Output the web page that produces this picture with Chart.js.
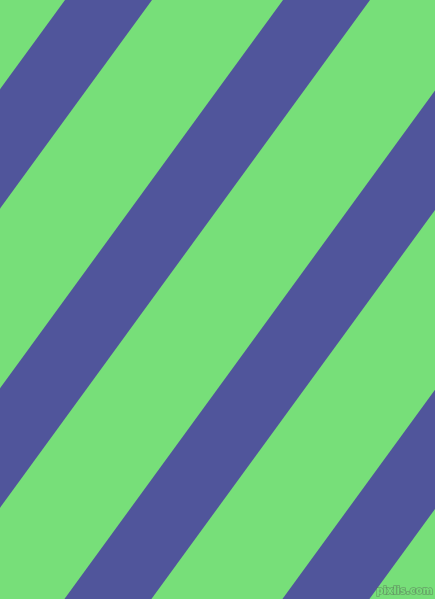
<!DOCTYPE html>
<html>
<head>
<meta charset="utf-8">
<script src="https://cdn.jsdelivr.net/npm/chart.js@4/dist/chart.umd.min.js"></script>
<style>
  html, body { margin: 0; padding: 0; background: #77df79; }
  canvas { display: block; }
</style>
</head>
<body>
<canvas id="stripes" width="435" height="599"></canvas>
<script>
// ── Band data: where each blue band's upper edge meets the top row ──
const bandStarts = [65, 283, 501, 719];   // x at y = 0
const bandWidth  = 87;                    // horizontal width of a band
const bandSlope  = 1.372;                 // dy per dx (edges run down-left)
const edgeXs     = [-60, 500];            // x positions sampled on each edge

const GREEN = "#77df79";
const BLUE  = "#50559b";

// each band = upper edge + lower edge, filled between the two
function edge(c) {
  return edgeXs.map(x => ({ x, y: bandSlope * (c - x) }));
}

const datasets = [];
bandStarts.forEach(c => {
  datasets.push({
    data: edge(c),
    borderWidth: 0,
    pointRadius: 0,
    fill: false,
  });
  datasets.push({
    data: edge(c + bandWidth),
    borderWidth: 0,
    pointRadius: 0,
    backgroundColor: BLUE,
    fill: "-1",
  });
});

// ── Plugins: flat background and the corner mark ──
const background = {
  id: "background",
  beforeDraw(chart) {
    const { ctx, width, height } = chart;
    ctx.save();
    ctx.fillStyle = GREEN;
    ctx.fillRect(0, 0, width, height);
    ctx.restore();
  },
};

const watermark = {
  id: "watermark",
  afterDraw(chart) {
    const { ctx } = chart;
    ctx.save();
    ctx.font = 'bold 10px "DejaVu Sans"';
    ctx.textAlign = "right";
    ctx.textBaseline = "alphabetic";
    ctx.lineWidth = 1.5;
    ctx.strokeStyle = "rgba(90,110,90,0.55)";
    ctx.strokeText("pixlis.com", 433, 594);
    ctx.fillStyle = GREEN;
    ctx.fillText("pixlis.com", 433, 594);
    ctx.restore();
  },
};

new Chart(document.getElementById("stripes").getContext("2d"), {
  type: "line",
  data: { datasets },
  options: {
    responsive: false,
    animation: false,
    layout: { padding: 0 },
    plugins: {
      legend: { display: false },
      tooltip: { enabled: false },
    },
    scales: {
      x: { type: "linear", min: 0, max: 435, display: false },
      y: { type: "linear", min: 0, max: 599, reverse: true, display: false },
    },
  },
  plugins: [background, watermark],
});
</script>
</body>
</html>
